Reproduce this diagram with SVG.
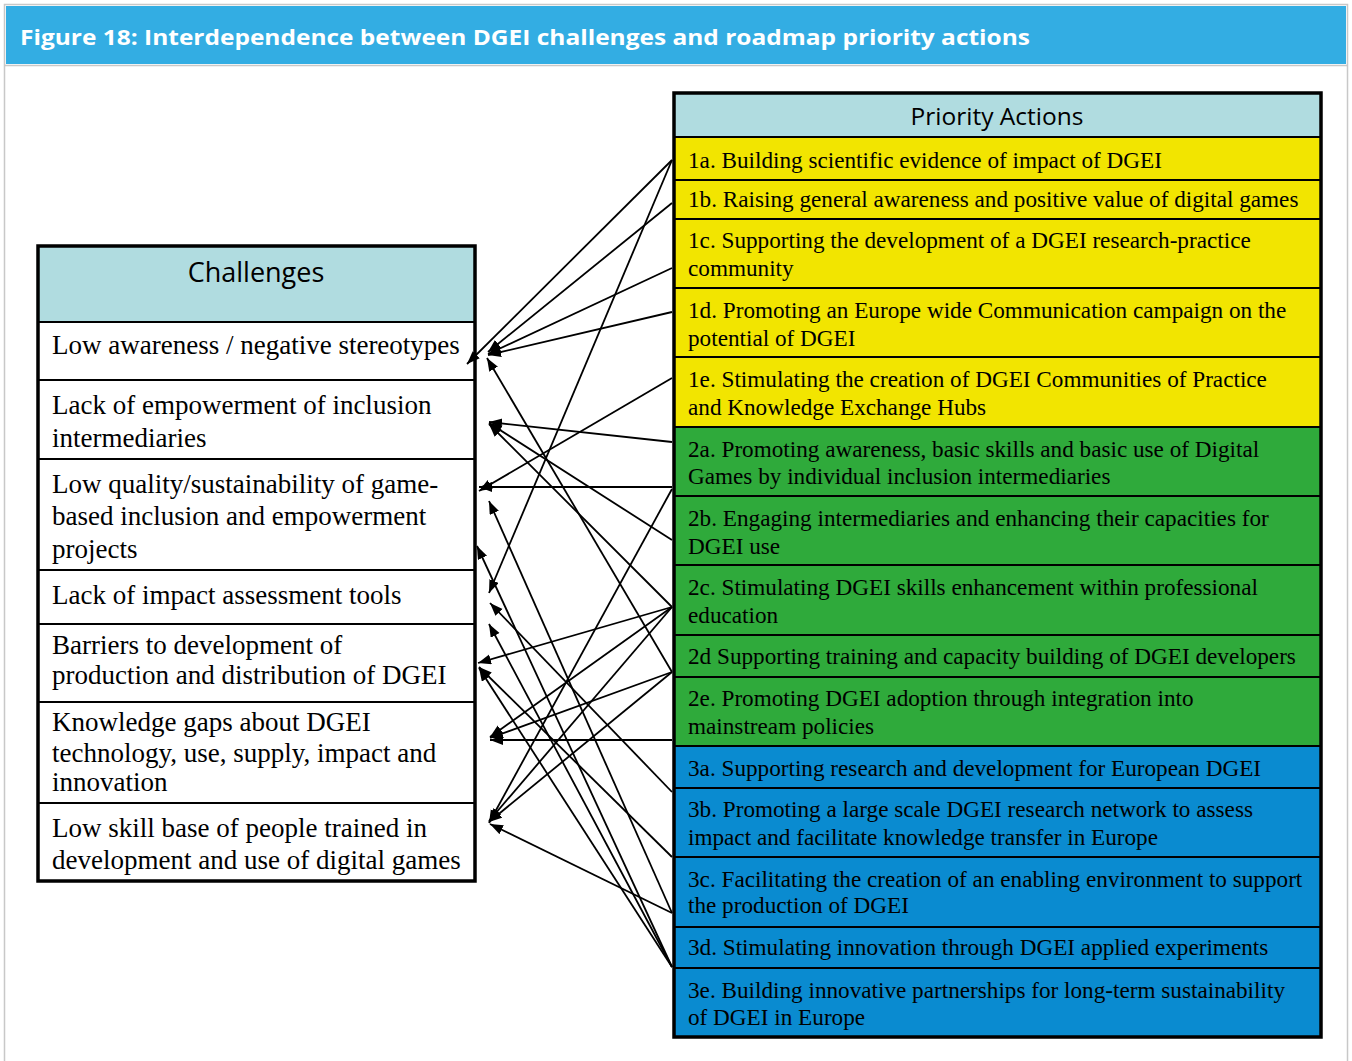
<svg xmlns="http://www.w3.org/2000/svg" width="1352" height="1061" viewBox="0 0 1352 1061">
<defs>
<marker id="ah" markerUnits="userSpaceOnUse" markerWidth="14" markerHeight="11" refX="13" refY="5" orient="auto">
<path d="M0,0 L13,5 L0,10 z" fill="#000"/>
</marker>
<style>
.frame{fill:#fff;stroke:#c8c8c8;stroke-width:1.5}
.title{font-family:"Open Sans","Noto Sans",sans-serif;font-weight:bold;font-size:22px;fill:#fff}
.hdr{fill:#b0dce0}
.ylw{fill:#f2e500}
.grn{fill:#2faa3b}
.blu{fill:#0a8bd0}
.out{fill:none;stroke:#000;stroke-width:3.5}
.sep{stroke:#000;stroke-width:2}
.htxt{font-family:"Open Sans","Noto Sans",sans-serif;fill:#000;text-anchor:middle}
.ct{font-family:"Liberation Serif","Times New Roman",serif;font-size:27px;fill:#000}
.pt{font-family:"Liberation Serif","Times New Roman",serif;font-size:23.2px;fill:#000}
.cn path{fill:none;stroke:#000;stroke-width:1.8;marker-end:url(#ah)}
</style>
</defs>
<rect class="frame" x="4.5" y="4.5" width="1343" height="1070"/>
<rect x="6" y="6" width="1340" height="58" fill="#33ade3"/>
<line x1="5" y1="65.5" x2="1347" y2="65.5" stroke="#c8c8c8" stroke-width="1.5"/>
<text class="title" x="20" y="45" textLength="1010" lengthAdjust="spacingAndGlyphs">Figure 18: Interdependence between DGEI challenges and roadmap priority actions</text>

<g id="challenges">
<rect class="hdr" x="38" y="246" width="437" height="76"/>
<rect x="38" y="322" width="437" height="559" fill="#fff"/>
<text class="htxt" x="256" y="282" font-size="27">Challenges</text>
<line class="sep" x1="38" y1="322" x2="475" y2="322"/>
<line class="sep" x1="38" y1="380" x2="475" y2="380"/>
<line class="sep" x1="38" y1="459" x2="475" y2="459"/>
<line class="sep" x1="38" y1="570" x2="475" y2="570"/>
<line class="sep" x1="38" y1="624" x2="475" y2="624"/>
<line class="sep" x1="38" y1="702" x2="475" y2="702"/>
<line class="sep" x1="38" y1="803" x2="475" y2="803"/>
<rect class="out" x="38" y="246" width="437" height="635"/>
</g>
<g id="c1"><text class="ct" x="52" y="354">Low awareness / negative stereotypes</text></g>
<g id="c2"><text class="ct" x="52" y="414">Lack of empowerment of inclusion</text><text class="ct" x="52" y="447">intermediaries</text></g>
<g id="c3"><text class="ct" x="52" y="493">Low quality/sustainability of game-</text><text class="ct" x="52" y="525">based inclusion and empowerment</text><text class="ct" x="52" y="558">projects</text></g>
<g id="c4"><text class="ct" x="52" y="604">Lack of impact assessment tools</text></g>
<g id="c5"><text class="ct" x="52" y="654">Barriers to development of</text><text class="ct" x="52" y="684">production and distribution of DGEI</text></g>
<g id="c6"><text class="ct" x="52" y="731">Knowledge gaps about DGEI</text><text class="ct" x="52" y="762">technology, use, supply, impact and</text><text class="ct" x="52" y="791">innovation</text></g>
<g id="c7"><text class="ct" x="52" y="837">Low skill base of people trained in</text><text class="ct" x="52" y="869">development and use of digital games</text></g>

<g id="actions">
<rect class="hdr" x="674" y="93" width="647" height="44"/>
<text class="htxt" x="997" y="125" font-size="24.5">Priority Actions</text>
<rect class="ylw" x="674" y="137" width="647" height="290"/>
<rect class="grn" x="674" y="427" width="647" height="319"/>
<rect class="blu" x="674" y="746" width="647" height="291"/>
<line class="sep" x1="674" y1="137" x2="1321" y2="137"/>
<line class="sep" x1="674" y1="180" x2="1321" y2="180"/>
<line class="sep" x1="674" y1="219" x2="1321" y2="219"/>
<line class="sep" x1="674" y1="288" x2="1321" y2="288"/>
<line class="sep" x1="674" y1="357" x2="1321" y2="357"/>
<line class="sep" x1="674" y1="427" x2="1321" y2="427"/>
<line class="sep" x1="674" y1="496" x2="1321" y2="496"/>
<line class="sep" x1="674" y1="565" x2="1321" y2="565"/>
<line class="sep" x1="674" y1="635" x2="1321" y2="635"/>
<line class="sep" x1="674" y1="677" x2="1321" y2="677"/>
<line class="sep" x1="674" y1="746" x2="1321" y2="746"/>
<line class="sep" x1="674" y1="788" x2="1321" y2="788"/>
<line class="sep" x1="674" y1="857" x2="1321" y2="857"/>
<line class="sep" x1="674" y1="927" x2="1321" y2="927"/>
<line class="sep" x1="674" y1="968" x2="1321" y2="968"/>
<rect class="out" x="674" y="93" width="647" height="944"/>
</g>
<g id="a1a"><text class="pt" x="688" y="168">1a. Building scientific evidence of impact of DGEI</text></g>
<g id="a1b"><text class="pt" x="688" y="207">1b. Raising general awareness and positive value of digital games</text></g>
<g id="a1c"><text class="pt" x="688" y="248">1c. Supporting the development of a DGEI research-practice</text><text class="pt" x="688" y="276">community</text></g>
<g id="a1d"><text class="pt" x="688" y="318">1d. Promoting an Europe wide Communication campaign on the</text><text class="pt" x="688" y="346">potential of DGEI</text></g>
<g id="a1e"><text class="pt" x="688" y="387">1e. Stimulating the creation of DGEI Communities of Practice</text><text class="pt" x="688" y="415">and Knowledge Exchange Hubs</text></g>
<g id="a2a"><text class="pt" x="688" y="457">2a. Promoting awareness, basic skills and basic use of Digital</text><text class="pt" x="688" y="484">Games by individual inclusion intermediaries</text></g>
<g id="a2b"><text class="pt" x="688" y="526">2b. Engaging intermediaries and enhancing their capacities for</text><text class="pt" x="688" y="554">DGEI use</text></g>
<g id="a2c"><text class="pt" x="688" y="595">2c. Stimulating DGEI skills enhancement within professional</text><text class="pt" x="688" y="623">education</text></g>
<g id="a2d"><text class="pt" x="688" y="664">2d Supporting training and capacity building of DGEI developers</text></g>
<g id="a2e"><text class="pt" x="688" y="706">2e. Promoting DGEI adoption through integration into</text><text class="pt" x="688" y="734">mainstream policies</text></g>
<g id="a3a"><text class="pt" x="688" y="776">3a. Supporting research and development for European DGEI</text></g>
<g id="a3b"><text class="pt" x="688" y="817">3b. Promoting a large scale DGEI research network to assess</text><text class="pt" x="688" y="845">impact and facilitate knowledge transfer in Europe</text></g>
<g id="a3c"><text class="pt" x="688" y="887">3c. Facilitating the creation of an enabling environment to support</text><text class="pt" x="688" y="913">the production of DGEI</text></g>
<g id="a3d"><text class="pt" x="688" y="955">3d. Stimulating innovation through DGEI applied experiments</text></g>
<g id="a3e"><text class="pt" x="688" y="998">3e. Building innovative partnerships for long-term sustainability</text><text class="pt" x="688" y="1025">of DGEI in Europe</text></g>

<g id="connectors" class="cn">
<path d="M672,160 L467,364"/>
<path d="M672,160 L489,593"/>
<path d="M672,203 L488,352"/>
<path d="M672,268 L488,354"/>
<path d="M672,312 L488,355"/>
<path d="M672,378 L479,491"/>
<path d="M672,442 L489,422"/>
<path d="M672,487 L479,487"/>
<path d="M672,489 L489,823"/>
<path d="M672,540 L489,423"/>
<path d="M672,607 L489,424"/>
<path d="M672,607 L478,663"/>
<path d="M672,607 L490,737"/>
<path d="M672,607 L489,821"/>
<path d="M672,672 L487,358"/>
<path d="M672,672 L490,738"/>
<path d="M672,672 L489,822"/>
<path d="M672,740 L490,740"/>
<path d="M672,792 L490,603"/>
<path d="M672,857 L479,667"/>
<path d="M672,913 L489,501"/>
<path d="M672,913 L490,824"/>
<path d="M672,967 L477,546"/>
<path d="M672,967 L489,624"/>
<path d="M672,967 L479,668"/>
</g>
</svg>
